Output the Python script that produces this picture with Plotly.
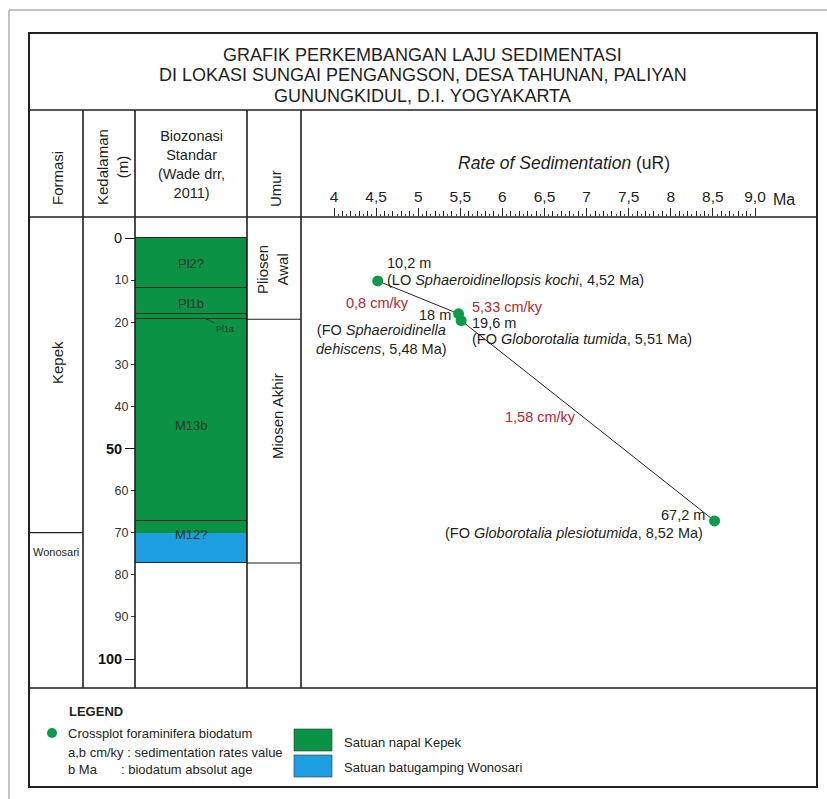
import numpy as np
import plotly.graph_objects as go

W, H = 827, 799


def px(x):
    return x / W


def py(y):
    return 1 - y / H


# ---------------- data ----------------
ages_ma = [4.52, 5.48, 5.51, 8.52]
depths_m = [10.2, 18.0, 19.6, 67.2]
depth_labels = ["10,2 m", "18 m", "19,6 m", "67,2 m"]
biodatum_labels = [
    "(LO <i>Sphaeroidinellopsis kochi</i>, 4,52 Ma)",
    "(FO <i>Sphaeroidinella</i><br><i>dehiscens</i>, 5,48 Ma)",
    "(FO <i>Globorotalia tumida</i>, 5,51 Ma)",
    "(FO <i>Globorotalia plesiotumida</i>, 8,52 Ma)",
]
rate_labels = ["0,8 cm/ky", "5,33 cm/ky", "1,58 cm/ky"]

zone_names = ["Pl2?", "Pl1b", "Pl1a", "M13b", "M12?"]
zone_top = [0.0, 11.9, 18.0, 19.3, 67.2]
zone_base = [11.9, 18.0, 19.3, 67.2, 77.2]

litho_names = ["Satuan napal Kepek", "Satuan batugamping Wonosari"]
litho_top = [0.0, 70.0]
litho_base = [70.0, 77.2]
litho_colors = ["#0a9345", "#1e9fe2"]

formation_names = ["Kepek", "Wonosari"]
formation_boundary = [70.0]
epoch_names = ["Pliosen<br>Awal", "Miosen Akhir"]
epoch_boundaries = [19.3, 77.2]

title_lines = ["GRAFIK PERKEMBANGAN LAJU SEDIMENTASI",
               "DI LOKASI SUNGAI PENGANGSON, DESA TAHUNAN, PALIYAN",
               "GUNUNGKIDUL, D.I. YOGYAKARTA"]

age_ticks = [4, 4.5, 5, 5.5, 6, 6.5, 7, 7.5, 8, 8.5, 9]
age_ticktext = ["4", "4,5", "5", "5,5", "6", "6,5", "7", "7,5", "8", "8,5", "9,0"]
depth_minor_ticks = [10, 20, 30, 40, 60, 70, 80, 90]
depth_major_ticks = [0, 50, 100]
depth_major_text = ["0", "<b>50</b>", "<b>100</b>"]

# ---------------- geometry ----------------
AX_L, AX_R = 301, 817
Y_T, Y_B = 217, 688
X4, X9 = 334, 755
ppm = (X9 - X4) / 5.0
x_range = [4 - (X4 - AX_L) / ppm, 9 + (AX_R - X9) / ppm]
D0, D100 = 238, 659
ppd = (D100 - D0) / 100.0
y_range = [(Y_B - D0) / ppd, -(D0 - Y_T) / ppd]

tick01 = [round(v, 2) for v in np.arange(4.1, 9.0, 0.1) if abs(v * 2 - round(v * 2)) > 1e-6]
tick005 = [round(v, 3) for v in np.arange(4.05, 9.0, 0.1)]

FONT = "Liberation Sans, Arial, sans-serif"
GREEN_DOT = "#0b9a48"
RED = "#b2272d"
TXT = "#231f20"
LBL = 14.5

fig = go.Figure()

# lithology fill
for name, t, b, c in zip(litho_names, litho_top, litho_base, litho_colors):
    fig.add_trace(go.Bar(x=[0.5], y=[b - t], base=[t], width=[1], name=name,
                         marker=dict(color=c, line=dict(width=0)),
                         xaxis="x2", yaxis="y", showlegend=False, hoverinfo="skip"))

# zone outlines
fig.add_trace(go.Bar(x=[0.5] * len(zone_names), y=[b - t for t, b in zip(zone_top, zone_base)],
                     base=zone_top, width=[1] * len(zone_names),
                     marker=dict(color="rgba(0,0,0,0)", line=dict(color="#1d2a22", width=1)),
                     xaxis="x2", yaxis="y", showlegend=False, hoverinfo="skip"))

# crossplot
fig.add_trace(go.Scatter(x=ages_ma, y=depths_m, mode="lines+markers",
                         line=dict(color="#222", width=1),
                         marker=dict(color=GREEN_DOT, size=11),
                         xaxis="x", yaxis="y", showlegend=False))

# dummy traces to realise the extra tick axes
fig.add_trace(go.Scatter(x=[None], y=[None], xaxis="x2", yaxis="y2", showlegend=False))
fig.add_trace(go.Scatter(x=[None], y=[None], xaxis="x2", yaxis="y3", showlegend=False))
fig.add_trace(go.Scatter(x=[None], y=[None], xaxis="x3", yaxis="y", showlegend=False))

ydom = [py(Y_B), py(Y_T)]

fig.update_layout(
    width=W, height=H, margin=dict(l=0, r=0, t=0, b=0),
    paper_bgcolor="white", plot_bgcolor="rgba(0,0,0,0)",
    font=dict(family=FONT, color=TXT, size=13),
    barmode="overlay", bargap=0,
    xaxis=dict(domain=[px(AX_L), px(AX_R)], range=x_range, anchor="y", side="top",
               tickmode="array", tickvals=age_ticks, ticktext=age_ticktext,
               ticks="outside", ticklen=8, tickwidth=1, tickcolor="#222",
               tickfont=dict(size=15.5, color=TXT), showgrid=False, zeroline=False, showline=False,
               minor=dict(tickmode="array", tickvals=tick01, ticklen=5, tickwidth=1,
                          tickcolor="#222", ticks="outside", showgrid=False)),
    xaxis3=dict(overlaying="x", range=x_range, anchor="y", side="top",
                tickmode="array", tickvals=tick005, ticks="outside", ticklen=2, tickwidth=1,
                tickcolor="#444", showticklabels=False, showgrid=False, zeroline=False, showline=False),
    xaxis2=dict(domain=[px(135), px(247)], range=[0, 1], anchor="y", visible=False),
    yaxis=dict(domain=ydom, range=y_range, visible=False),
    yaxis2=dict(overlaying="y", range=y_range, anchor="free", position=px(135), side="left",
                tickmode="array", tickvals=depth_minor_ticks, ticks="outside", ticklen=4,
                tickwidth=1, tickcolor="#333", tickfont=dict(size=12.5, color="#333"),
                showgrid=False, zeroline=False, showline=False),
    yaxis3=dict(overlaying="y", range=y_range, anchor="free", position=px(135), side="left",
                tickmode="array", tickvals=depth_major_ticks, ticktext=depth_major_text,
                ticks="outside", ticklen=10, tickwidth=1.2, tickcolor="#111",
                tickfont=dict(size=14.5, color="#111"),
                showgrid=False, zeroline=False, showline=False),
)

shapes = []


def pline(x0, y0, x1, y1, w=1.5, c="#231f20"):
    shapes.append(dict(type="line", xref="paper", yref="paper", x0=px(x0), y0=py(y0),
                       x1=px(x1), y1=py(y1), line=dict(color=c, width=w)))


# outer page frame
pline(9, 10, W, 10, 1, "#8a8a8a")
pline(9, 10, 9, H, 1, "#8a8a8a")
# main frame
shapes.append(dict(type="rect", xref="paper", yref="paper", x0=px(29), y0=py(787),
                   x1=px(817), y1=py(33), line=dict(color="#231f20", width=2)))
for yy in (110, 217, 688):
    pline(29, yy, 817, yy, 1.6)
for xx in (83, 135, 247, 301):
    pline(xx, 110, xx, 688, 1.6)
# formation boundary & epoch boundaries in depth units
for d in formation_boundary:
    shapes.append(dict(type="line", xref="paper", yref="y", x0=px(29), x1=px(83), y0=d, y1=d,
                       line=dict(color="#231f20", width=1.2)))
for d in epoch_boundaries:
    shapes.append(dict(type="line", xref="paper", yref="y", x0=px(247), x1=px(301), y0=d, y1=d,
                       line=dict(color="#231f20", width=1.2)))
# legend swatches
shapes.append(dict(type="circle", xref="paper", yref="paper", x0=px(47), x1=px(57),
                   y0=py(738), y1=py(728), fillcolor=GREEN_DOT, line=dict(width=0)))
for (y0, y1), c in zip([(729, 751), (755, 777)], litho_colors):
    shapes.append(dict(type="rect", xref="paper", yref="paper", x0=px(294), x1=px(332),
                       y0=py(y1), y1=py(y0), fillcolor=c, line=dict(color="#2a3a40", width=0.6)))
fig.update_layout(shapes=shapes)

ann = []


def txt(x, y, s, size=13, xa="center", color=TXT, angle=0, align="center"):
    ann.append(dict(x=px(x), y=py(y), xref="paper", yref="paper", text=s, showarrow=False,
                    xanchor=xa, yanchor="middle", textangle=angle, align=align,
                    font=dict(size=size, color=color, family=FONT)))


# title
for yy, line in zip((55, 75, 96), title_lines):
    txt(423, yy, line, size=18)
# headers
txt(57, 178, "Formasi", 15, angle=-90)
txt(113, 167, "Kedalaman<br>(m)", 15, angle=-90)
txt(191, 164, "Biozonasi<br>Standar<br>(Wade drr,<br>2011)", 14.5)
txt(275, 189, "Umur", 15, angle=-90)
txt(564, 163, "<i>Rate of Sedimentation</i> (uR)", 17.5)
txt(771, 199, "Ma", 16, xa="left")
# formation / epoch
txt(58, 363, formation_names[0], 15, angle=-90)
txt(56, 552, formation_names[1], 11)
txt(273, 270, epoch_names[0], 15, angle=-90)
txt(277, 416, epoch_names[1], 15, angle=-90)
# zones
zc = "#23362b"
txt(191, 263, zone_names[0], 13, color=zc)
txt(191, 303, zone_names[1], 13, color=zc)
txt(191, 425, zone_names[3], 13, color=zc)
txt(191, 534, zone_names[4], 13, color=zc)
ann.append(dict(x=px(205), y=py(318), xref="paper", yref="paper", text=zone_names[2],
                showarrow=True, ax=20, ay=11, arrowhead=2, arrowsize=0.7, arrowwidth=0.8,
                arrowcolor="#23362b", font=dict(size=9, color=zc, family=FONT)))
# data labels
txt(385, 263, depth_labels[0], LBL, xa="left")
txt(385, 280, biodatum_labels[0], LBL, xa="left")
txt(453, 315, depth_labels[1], LBL, xa="right")
txt(381, 339, biodatum_labels[1], LBL)
txt(470, 323, depth_labels[2], LBL, xa="left")
txt(470, 339, biodatum_labels[2], LBL, xa="left")
txt(707, 515, depth_labels[3], LBL, xa="right")
txt(443, 533, biodatum_labels[3], LBL, xa="left")
txt(344, 303, rate_labels[0], LBL, xa="left", color=RED)
txt(470, 307, rate_labels[1], LBL, xa="left", color=RED)
txt(503, 417, rate_labels[2], LBL, xa="left", color=RED)
# legend
txt(67, 711, "<b>LEGEND</b>", 13, xa="left")
txt(66, 733, "Crossplot foraminifera biodatum", 13, xa="left")
txt(66, 752, "a,b cm/ky : sedimentation rates value", 13, xa="left")
txt(66, 769, "b Ma", 13, xa="left")
txt(119, 769, ": biodatum absolut age", 13, xa="left")
txt(342, 742, litho_names[0], 13, xa="left")
txt(342, 767, litho_names[1], 13, xa="left")

fig.update_layout(annotations=ann)
fig.write_html("out.html", config={"displayModeBar": False},
               post_script="document.body.style.margin='0px';")
